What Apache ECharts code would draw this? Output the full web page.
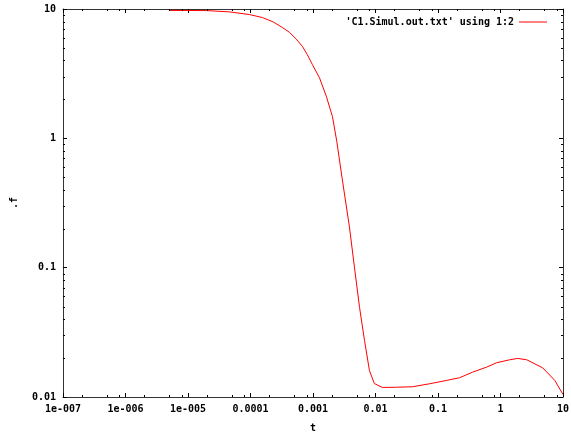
<!DOCTYPE html>
<html>
<head>
<meta charset="utf-8">
<script src="https://cdn.jsdelivr.net/npm/echarts@6/dist/echarts.min.js"></script>
<style>html,body{margin:0;padding:0;background:#fff}#c{width:571px;height:432px}</style>
</head>
<body>
<div id="c"></div>
<script>
// ---- data ----
var tValues = [5e-6, 1e-5, 2e-5, 4.6e-5, 9.6e-5, 1.55e-4, 2.3e-4, 3.24e-4, 4.2e-4, 5.4e-4, 6.8e-4, 8.1e-4, 9.8e-4,
  1.27e-3, 1.64e-3, 2.05e-3, 2.4e-3, 3.0e-3, 3.83e-3, 4.6e-3, 5.55e-3, 6.67e-3, 8.0e-3,
  9.6e-3, 1.29e-2, 2.17e-2, 3.9e-2, 7.3e-2, 0.137, 0.222, 0.358, 0.6, 0.87,
  1.4, 1.89, 2.63, 4.74, 7.4, 10];
var fValues = [9.75, 9.74, 9.72, 9.5, 9.06, 8.59, 7.95, 7.19, 6.6, 5.85, 5.12, 4.44, 3.71,
  2.94, 2.1, 1.47, 0.95, 0.452, 0.206, 0.101, 0.0494, 0.0274, 0.016,
  0.0127, 0.01185, 0.0119, 0.012, 0.01265, 0.01343, 0.0141, 0.01557, 0.01703, 0.01841,
  0.0194, 0.01987, 0.0194, 0.0168, 0.01343, 0.01045];
var xTickLabels = ['1e-007', '1e-006', '1e-005', '0.0001', '0.001', '0.01', '0.1', '1', '10'];
var yTickLabels = ['0.01', '0.1', '1', '10'];
var seriesName = "'C1.Simul.out.txt' using 1:2";
var xName = 't';
var yName = '.f';
var xMinorMantissas = [2, 5, 8];
var yMinorMantissas = [2, 3, 4, 5, 6, 7, 8, 9];

var X_MIN = 1e-7, X_MAX = 10, Y_MIN = 0.01, Y_MAX = 10;
var FONT = 'DejaVu Sans Mono';

function expOf(v) { return Math.round(Math.log10(v)); }
function minorList(min, max, mant) {
  var out = [];
  for (var e = expOf(min); e < expOf(max); e++) {
    mant.forEach(function (m) { out.push(m * Math.pow(10, e)); });
  }
  return out;
}
var xMinor = minorList(X_MIN, X_MAX, xMinorMantissas);
var yMinor = minorList(Y_MIN, Y_MAX, yMinorMantissas);

var lineData = tValues.map(function (t, i) { return [t, fValues[i]]; });

var tickStyle = { color: '#000', width: 1 };
function minorTickSeries(vals, isX) {
  return {
    type: 'custom',
    silent: true,
    data: vals.map(function (v) { return isX ? [v, Y_MIN] : [X_MIN, v]; }),
    clip: false,
    renderItem: function (params, api) {
      var cs = params.coordSys;
      var p = api.coord([api.value(0), api.value(1)]);
      var L = 2;
      var children;
      if (isX) {
        var x = Math.round(p[0]) + 0.5;
        children = [
          { type: 'line', shape: { x1: x, y1: cs.y + cs.height, x2: x, y2: cs.y + cs.height - L }, style: { stroke: '#000', lineWidth: 1 } },
          { type: 'line', shape: { x1: x, y1: cs.y, x2: x, y2: cs.y + L }, style: { stroke: '#000', lineWidth: 1 } }
        ];
      } else {
        var y = Math.round(p[1]) + 0.5;
        children = [
          { type: 'line', shape: { x1: cs.x, y1: y, x2: cs.x + L, y2: y }, style: { stroke: '#000', lineWidth: 1 } },
          { type: 'line', shape: { x1: cs.x + cs.width, y1: y, x2: cs.x + cs.width - L, y2: y }, style: { stroke: '#000', lineWidth: 1 } }
        ];
      }
      return { type: 'group', children: children };
    },
    z: 5
  };
}

var labelFont = { fontFamily: FONT, fontSize: 10, fontWeight: 'bold', color: '#000' };

var chart = echarts.init(document.getElementById('c'), null, { renderer: 'canvas' });
chart.setOption({
  animation: false,
  backgroundColor: '#fff',
  grid: { left: 63, right: 8, top: 9, bottom: 35, containLabel: false, outerBoundsMode: 'none' },
  legend: {
    right: 19, top: 12,
    align: 'right',
    itemWidth: 28, itemHeight: 1, itemGap: 5,
    data: [{ name: seriesName, icon: 'rect' }],
    textStyle: labelFont
  },
  xAxis: [{
    type: 'log', logBase: 10, min: X_MIN, max: X_MAX,
    name: xName, nameLocation: 'middle', nameGap: 26,
    nameTextStyle: labelFont,
    axisLine: { show: true, lineStyle: { color: '#333', width: 1 } },
    axisTick: { show: true, inside: true, length: 4, lineStyle: tickStyle },
    axisLabel: {
      margin: 7, fontFamily: FONT, fontSize: 10, fontWeight: 'bold', color: '#000',
      formatter: function (v) { return xTickLabels[expOf(v) - expOf(X_MIN)]; }
    },
    splitLine: { show: false }
  }, {
    type: 'log', logBase: 10, min: X_MIN, max: X_MAX, position: 'top',
    axisLine: { show: true, lineStyle: { color: '#333', width: 1 } },
    axisTick: { show: true, inside: true, length: 4, lineStyle: tickStyle },
    axisLabel: { show: false },
    splitLine: { show: false }
  }],
  yAxis: [{
    type: 'log', logBase: 10, min: Y_MIN, max: Y_MAX,
    name: yName, nameLocation: 'middle', nameGap: 44, nameRotate: 90,
    nameTextStyle: labelFont,
    axisLine: { show: true, lineStyle: { color: '#333', width: 1 } },
    axisTick: { show: true, inside: true, length: 4, lineStyle: tickStyle },
    axisLabel: {
      margin: 7, fontFamily: FONT, fontSize: 10, fontWeight: 'bold', color: '#000',
      formatter: function (v) { return yTickLabels[expOf(v) - expOf(Y_MIN)]; }
    },
    splitLine: { show: false }
  }, {
    type: 'log', logBase: 10, min: Y_MIN, max: Y_MAX, position: 'right',
    axisLine: { show: true, lineStyle: { color: '#333', width: 1 } },
    axisTick: { show: true, inside: true, length: 4, lineStyle: tickStyle },
    axisLabel: { show: false },
    splitLine: { show: false }
  }],
  series: [{
    name: seriesName,
    type: 'line',
    data: lineData,
    symbol: 'none',
    smooth: false,
    lineStyle: { color: '#ff0000', width: 1 },
    itemStyle: { color: '#ff0000' },
    z: 3
  }, minorTickSeries(xMinor, true), minorTickSeries(yMinor, false)]
});
</script>
</body>
</html>
